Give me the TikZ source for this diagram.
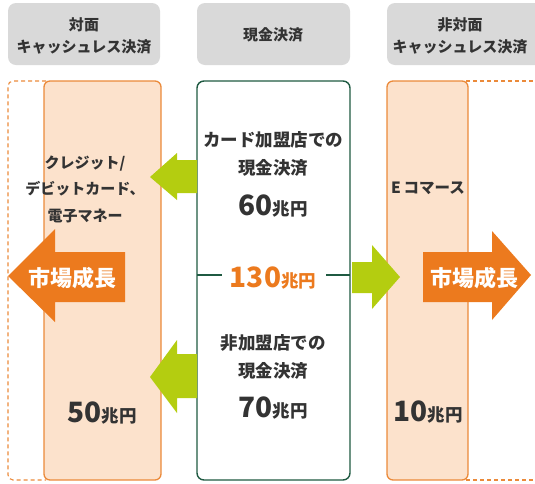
\documentclass[tikz,border=0pt]{standalone}
\usepackage{fontspec}
\setmainfont{Noto Sans CJK JP}
\definecolor{hdrgray}{HTML}{D9D9D9}
\definecolor{peach}{HTML}{FCE2CC}
\definecolor{orangeln}{HTML}{EB8A3A}
\definecolor{orangear}{HTML}{EC7A1E}
\definecolor{limeg}{HTML}{B4CD10}
\definecolor{dkgreen}{HTML}{1F5A42}
\definecolor{txt}{HTML}{333333}
\definecolor{orangetxt}{HTML}{EC7A1E}
\newcommand{\amount}[1]{\fontsize{28}{28}\selectfont #1\fontsize{17.5}{17.5}\selectfont 兆円}
\begin{document}
\begin{tikzpicture}[x=1pt,y=-1pt,
  hdr/.style={fill=hdrgray,rounded corners=8pt,draw=none},
  hdrtxt/.style={text=txt,font=\bfseries\fontsize{15}{22}\selectfont,align=center,inner sep=0pt},
  obox/.style={fill=peach,draw=orangeln,line width=1.3pt,rounded corners=6pt},
  dbox/.style={draw=orangeln,line width=1.1pt,dash pattern=on 4pt off 3pt},
  gbox/.style={fill=white,draw=dkgreen,line width=1.4pt,rounded corners=7pt},
  body/.style={text=txt,font=\bfseries\fontsize{17.5}{28}\selectfont,align=center,inner sep=0pt},
  amt/.style={text=txt,font=\bfseries,inner sep=0pt},
  growtxt/.style={text=white,font=\bfseries\fontsize{22}{24}\selectfont,inner sep=0pt},
  limearrow/.style={fill=limeg,draw=none},
  orarrow/.style={fill=orangear,draw=none}]
\useasboundingbox (0,0) rectangle (535,483);
% headers
\fill[hdr] (8,3) rectangle (160,65);
\fill[hdr] (197,3) rectangle (350,65);
\fill[hdr] (387,3) rectangle (545,65);
\node[hdrtxt] (h1) at (84,36) {対面\\キャッシュレス決済};
\node[hdrtxt] (h2) at (273,35) {現金決済};
\node[hdrtxt] (h3) at (460,36) {非対面\\キャッシュレス決済};
% dashed boxes
\draw[dbox,rounded corners=5pt] (46,81) -- (8,81) -- (8,480) -- (46,480);
\draw[dbox] (466,81) -- (540,81);
\draw[dbox] (466,480) -- (540,480);
% orange boxes
\draw[obox] (44,81) rectangle (161,480);
\draw[obox] (387,81) rectangle (468,480);
% green box
\draw[gbox] (197,81) rectangle (350,480);
% lime arrows
\fill[limearrow] (197,160) -- (177,160) -- (177,153) -- (150,177) -- (177,200) -- (177,193) -- (197,193) -- cycle;
\fill[limearrow] (197,354) -- (177,354) -- (177,340) -- (150,377) -- (177,413) -- (177,398) -- (197,398) -- cycle;
\fill[limearrow] (352,262) -- (372,262) -- (372,245) -- (400,277) -- (372,309) -- (372,293) -- (352,293) -- cycle;
% orange growth arrows
\fill[orarrow] (125,252) -- (55,252) -- (55,229) -- (8,276) -- (55,322) -- (55,302) -- (125,302) -- cycle;
\fill[orarrow] (423,252) -- (492,252) -- (492,231) -- (531,275) -- (492,320) -- (492,302) -- (423,302) -- cycle;
\node[growtxt] (g1) at (72,278) {市場成長};
\node[growtxt] (g2) at (474,278) {市場成長};
% center texts
\node[body] (c1) at (273,154) {カード加盟店での\\現金決済};
\node[amt] (c1a) at (273,206) {\amount{60}};
\node[amt,text=orangetxt] (tot) at (273,278) {\amount{130}};
\draw[dkgreen,line width=1.4pt] (197,275) -- (222,275);
\draw[dkgreen,line width=1.4pt] (326,275) -- (350,275);
\node[body] (c2) at (273,357) {非加盟店での\\現金決済};
\node[amt] (c2a) at (273,408) {\amount{70}};
% left texts
\node[body,font=\bfseries\fontsize{15}{26.5}\selectfont] (l1) at (85,189) {クレジット/\\デビットカード、\\電子マネー};
\node[amt] (l1a) at (102,413) {\amount{50}};
% right texts
\node[body,font=\bfseries\fontsize{15.5}{18}\selectfont] (r1) at (428,188) {E\,コマース};
\node[amt] (r1a) at (428,412) {\amount{10}};
\end{tikzpicture}
\end{document}
